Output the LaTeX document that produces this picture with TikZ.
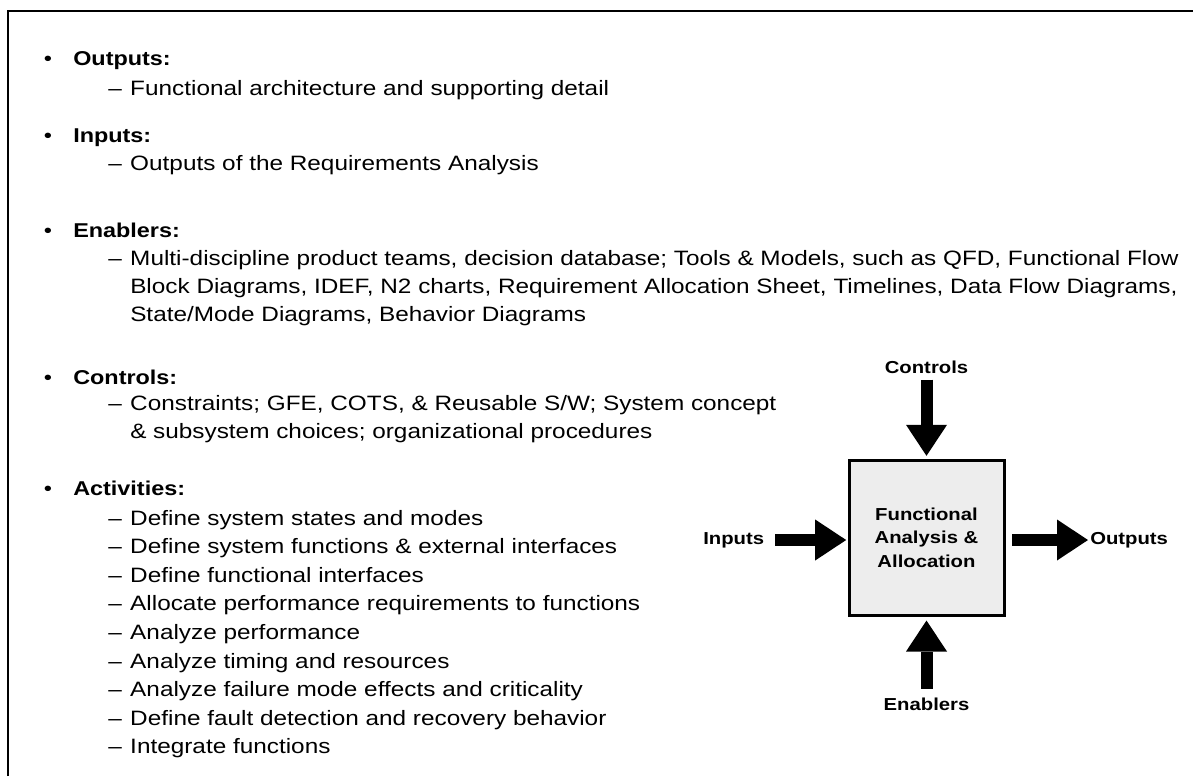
\documentclass[tikz,border=0pt]{standalone}
\usepackage{fontspec}
\setmainfont{Liberation Sans}[FakeStretch=1.17]
\usetikzlibrary{arrows.meta}
\newcommand{\subdash}{\makebox[16.5pt][l]{--}}
\begin{document}
\begin{tikzpicture}[x=0.75pt,y=-0.75pt,
        every node/.style={inner sep=0pt},
        head/.style={anchor=base west,font=\fontsize{15}{18}\selectfont\bfseries},
        body/.style={anchor=base west,font=\fontsize{15.6}{18}\selectfont},
        bul/.style={anchor=base,font=\fontsize{15}{18}\selectfont},
        lbl/.style={font=\fontsize{13}{16}\selectfont\bfseries},
        fatarrow/.style={line width=9pt,-{Triangle[length=23.25pt,width=30.75pt,line width=0pt]}}]
        \useasboundingbox (0,0) rectangle (1193,776);
        \draw[line width=2pt] (8,776) -- (8,11) -- (1193,11);
        \node[bul] (b1) at (48,65) {•};
        \node[head] (hOut) at (73,65) {Outputs:};
        \node[body] (sOut) at (108,95) {\subdash Functional architecture and supporting detail};
        \node[bul] (b2) at (48,142) {•};
        \node[head] (hInp) at (73,142) {Inputs:};
        \node[body] (sInp) at (108,170) {\subdash Outputs of the Requirements Analysis};
        \node[bul] (b3) at (48,237) {•};
        \node[head] (hEnb) at (73,237) {Enablers:};
        \node[body] (sEnb1) at (108,265) {\subdash Multi-discipline product teams, decision database; Tools \& Models, such as QFD, Functional Flow};
        \node[body] (sEnb2) at (130,293) {Block Diagrams, IDEF, N2 charts, Requirement Allocation Sheet, Timelines, Data Flow Diagrams,};
        \node[body] (sEnb3) at (130,321) {State/Mode Diagrams, Behavior Diagrams};
        \node[bul] (b4) at (48,384) {•};
        \node[head] (hCtl) at (73,384) {Controls:};
        \node[body] (sCtl1) at (108,410) {\subdash Constraints; GFE, COTS, \& Reusable S/W; System concept};
        \node[body] (sCtl2) at (130,438) {\& subsystem choices; organizational procedures};
        \node[bul] (b5) at (48,495) {•};
        \node[head] (hAct) at (73,495) {Activities:};
        \foreach \txt [count=\i from 0] in {Define system states and modes,
                Define system functions \& external interfaces,
                Define functional interfaces,
                Allocate performance requirements to functions,
                Analyze performance,
                Analyze timing and resources,
                Analyze failure mode effects and criticality,
                Define fault detection and recovery behavior,
                Integrate functions}
            \node[body] (sAct\i) at (108,525+28.6*\i) {\subdash \txt};
        \node[draw,line width=2.25pt,fill=black!7,minimum width=116.25pt,minimum height=116.25pt,
            align=center,font=\fontsize{13}{17.6}\selectfont\bfseries] (fa) at (926.5,537.5)
            {Functional\\Analysis \&\\Allocation};
        \node[lbl] (ctl) at (926.5,367) {Controls};
        \node[lbl] (enb) at (926.5,704) {Enablers};
        \node[lbl,anchor=west] (inp) at (703,540) {Inputs};
        \node[lbl,anchor=west] (outp) at (1090,540) {Outputs};
        \draw[fatarrow,shorten <=4.5pt,shorten >=2pt] (ctl.south) -- (ctl.south |- fa.north);
        \draw[fatarrow,shorten <=6.5pt,shorten >=3pt] (enb.north) -- (enb.north |- fa.south);
        \draw[fatarrow,shorten <=8pt,shorten >=1pt] (inp.east) -- (inp.east -| fa.west);
        \draw[fatarrow,shorten <=5pt,shorten >=1.5pt] (fa.east |- outp.west) -- (outp.west);
\end{tikzpicture}
\end{document}
